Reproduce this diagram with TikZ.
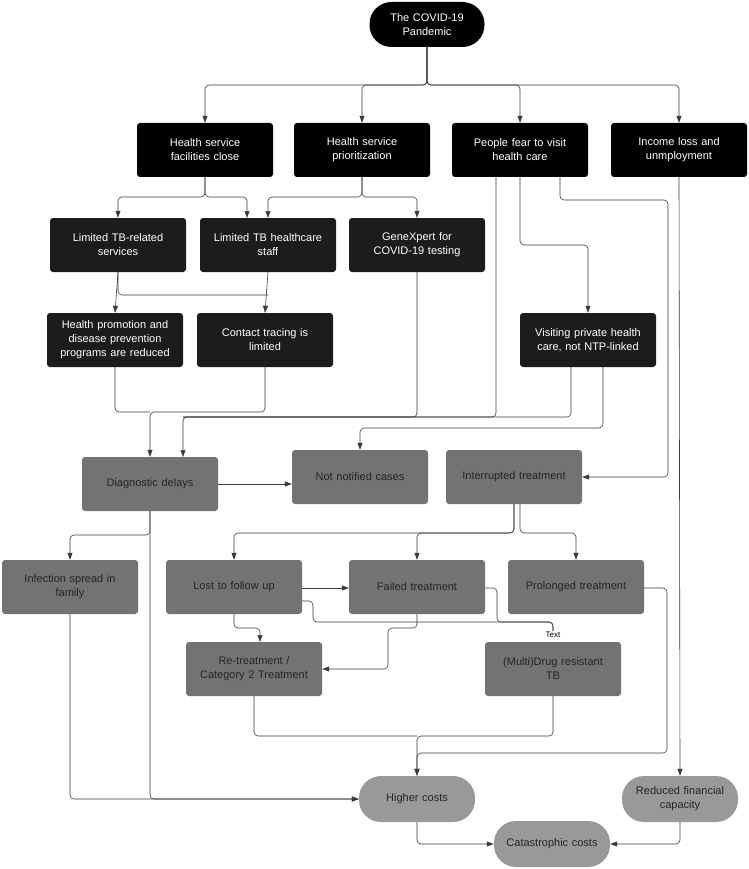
\documentclass[tikz,border=0pt]{standalone}
\usepackage{fontspec}
\setmainfont{Liberation Sans}
\usetikzlibrary{arrows.meta}
\definecolor{boxgray}{HTML}{737373}
\definecolor{stadgray}{HTML}{999999}
\definecolor{darkbox}{HTML}{1C1C1C}
\definecolor{linecol}{HTML}{3A3A3A}
\begin{document}
\begin{tikzpicture}[x=1pt,y=-1pt,
  every node/.style={font=\fontsize{11}{14}\selectfont, align=center, inner sep=2pt},
  blackbox/.style={rectangle, rounded corners=3pt, fill=black, text=white, minimum width=136pt, minimum height=54pt, text width=128pt},
  darkbox/.style={blackbox, fill=darkbox},
  graybox/.style={rectangle, rounded corners=3pt, fill=boxgray, text=black!85, minimum width=136pt, minimum height=54pt, text width=128pt},
  stad/.style={rectangle, rounded corners=22pt, fill=stadgray, text=black!85, minimum width=116pt, minimum height=46pt, text width=110pt},
  conn/.style={draw=linecol, line width=0.6pt, rounded corners=4pt},
  arr/.style={conn, -{Triangle[length=7pt,width=5pt]}}
]
\useasboundingbox (0,0) rectangle (748,869);
% nodes
\node[blackbox, rounded corners=22pt, minimum width=115pt, minimum height=45pt, text width=100pt] (covid) at (427,24.5) {The COVID-19\\Pandemic};
\node[blackbox] (hsf) at (205,150) {Health service\\facilities close};
\node[blackbox] (hsp) at (362,150) {Health service\\prioritization};
\node[blackbox] (fear) at (520,150) {People fear to visit\\health care};
\node[blackbox] (inc) at (679,150) {Income loss and\\unmployment};
\node[darkbox] (ltb) at (118,245) {Limited TB-related\\services};
\node[darkbox] (staff) at (268,245) {Limited TB healthcare\\staff};
\node[darkbox] (gx) at (417,245) {GeneXpert for\\COVID-19 testing};
\node[darkbox] (hp) at (115,340) {Health promotion and\\disease prevention\\programs are reduced};
\node[darkbox] (ct) at (265,340) {Contact tracing is\\limited};
\node[darkbox] (vp) at (588,340) {Visiting private health\\care, not NTP-linked};
\node[graybox] (diag) at (150,484) {Diagnostic delays};
\node[graybox] (nn) at (360,477) {Not notified cases};
\node[graybox] (it) at (514,477) {Interrupted treatment};
\node[graybox] (inf) at (70,587) {Infection spread in\\family};
\node[graybox] (lost) at (234,587) {Lost to follow up};
\node[graybox] (fail) at (417,587) {Failed treatment};
\node[graybox] (prol) at (576,587) {Prolonged treatment};
\node[graybox] (retr) at (254,669) {Re-treatment /\\Category 2 Treatment};
\node[graybox] (mdr) at (553,669) {(Multi)Drug resistant\\TB};
\node[stad] (hc) at (417,799) {Higher costs};
\node[stad] (rfc) at (680,799) {Reduced financial\\capacity};
\node[stad] (cat) at (552,844) {Catastrophic costs};
\node[font=\fontsize{8}{9}\selectfont, inner sep=1pt] (txt) at (553,635) {Text};
% connectors from COVID
\draw[arr] (covid.south) -- (427,85) -| (hsf.north);
\draw[arr] (covid.south) -- (427,85) -| (hsp.north);
\draw[arr] (covid.south) -- (427,85) -| (fear.north);
\draw[arr] (covid.south) -- (427,85) -| (inc.north);
% row 1 -> row 2
\draw[arr] (hsf.south) -- (205,197) -| (ltb.north);
\draw[arr] (hsf.south) -- (205,197) -| (247,218);
\draw[arr] (hsp.south) -- (362,197) -| (268,218);
\draw[arr] (hsp.south) -- (362,197) -| (gx.north);
% row 2 -> row 3
\draw[arr] (ltb.south) -- (hp.north);
\draw[conn] (ltb.south) |- (268,295);
\draw[arr] (staff.south) -- (ct.north);
% fear -> private
\draw[arr] (fear.south -| 520,0) -- (520,245) -| (vp.north);
% fear -> interrupted
\draw[arr] (fear.south -| 560,0) -- (560,200) -- (668,200) |- (it.east);
% income -> reduced financial
\draw[arr] (inc.south) -- (rfc.north);
% to diagnostic delays
\draw[conn] (hp.south) |- (150,412);
\draw[arr] (ct.south) |- (150,412) -- (diag.north);
\draw[arr] (gx.south) |- (183,417) -- (183,457);
\draw[conn] (fear.south -| 496,0) |- (183,417);
\draw[conn] (vp.south -| 571,0) |- (183,417);
% private -> not notified
\draw[arr] (vp.south -| 603,0) |- (360,428) -- (nn.north);
% diag -> not notified
\draw[arr] (diag.east) -- (nn.west |- diag.east);
% diag -> infection / higher costs
\draw[arr] (diag.south) -- (150,535) -| (inf.north);
\draw[arr] (diag.south) |- (hc.west);
\draw[arr] (inf.south) |- (hc.west);
% interrupted -> row 5
\draw[arr] (it.south -| 514,0) -- (514,533) -| (lost.north);
\draw[arr] (it.south -| 514,0) -- (514,533) -| (fail.north);
\draw[arr] (it.south -| 520,0) -- (520,533) -| (prol.north);
% row 5 internal
\draw[arr] (lost.east |- 0,588) -- (fail.west |- 0,588);
\draw[arr] (lost.south) -- (234,628) -| (260,642);
\draw[arr] (fail.south) -- (417,628) -- (388,628) |- (retr.east);
\draw[conn] (lost.east |- 0,601) -| (313,622) -| (txt.north);
\draw[conn] (fail.east |- 0,588) -| (497,622) -| (txt.north);
% to higher costs
\draw[conn] (retr.south) |- (417,736);
\draw[arr] (mdr.south) |- (417,736) -- (hc.north);
\draw[arr] (prol.east |- 0,588) -| (667,753) -| (hc.north);
% to catastrophic
\draw[arr] (hc.south) |- (cat.west);
\draw[arr] (rfc.south) |- (cat.east);
\end{tikzpicture}
\end{document}
